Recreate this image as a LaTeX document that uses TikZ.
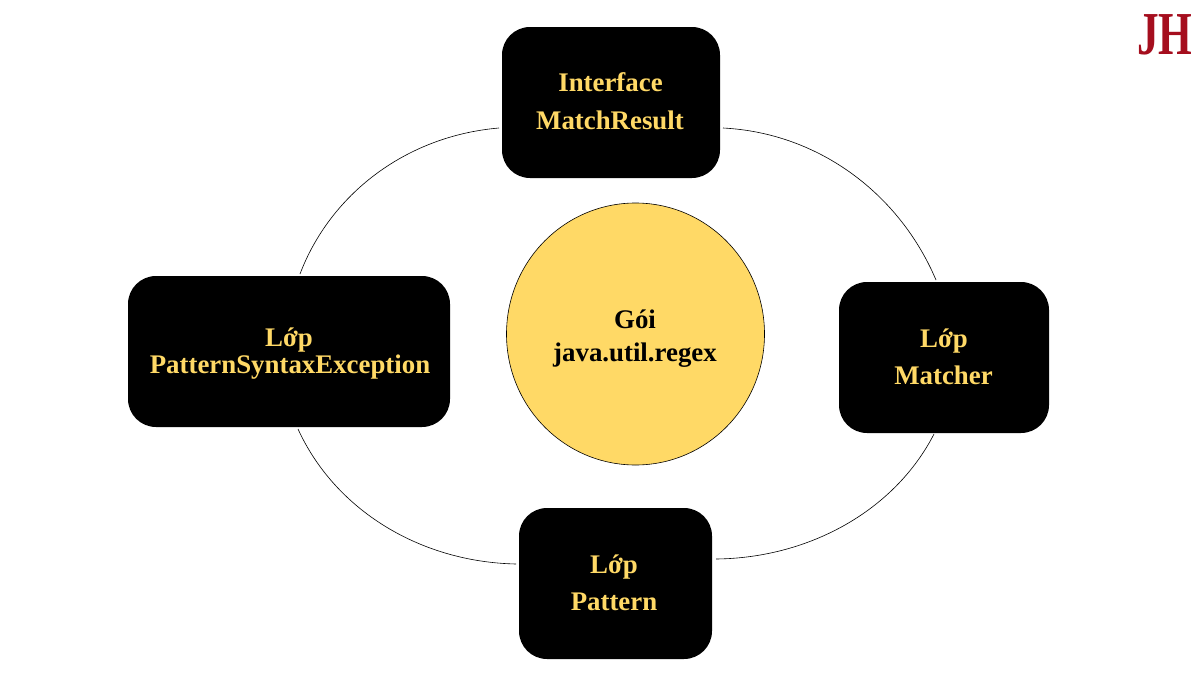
\documentclass[tikz,border=0pt]{standalone}
\usepackage{fontspec}
\usepackage{graphicx}
\usetikzlibrary{shapes.geometric}
\setmainfont{Liberation Serif}
\definecolor{gold}{HTML}{FFD966}
\definecolor{jhred}{HTML}{A50E1E}
\tikzset{
 box/.style={fill=black,rounded corners=28pt,inner sep=0pt},
 goldtext/.style={font=\fontsize{26.85pt}{28pt}\selectfont\bfseries,text=gold,inner sep=0pt,anchor=base},
 darktext/.style={font=\fontsize{26.85pt}{28pt}\selectfont\bfseries,text=black,inner sep=0pt,anchor=base},
 arcline/.style={draw=black,line width=0.6pt},
}
\begin{document}
\begin{tikzpicture}[x=1pt,y=-1pt]
\useasboundingbox (0,0) rectangle (1204,688);
\fill[white] (0,0) rectangle (1204,688);
\node[box,minimum width=218pt,minimum height=151pt] (top) at (611,102.5) {};
\node[box,minimum width=322pt,minimum height=151pt] (left) at (289,351.5) {};
\node[box,minimum width=210pt,minimum height=151pt] (right) at (944,357.5) {};
\node[box,minimum width=193pt,minimum height=151pt] (bottom) at (615.5,583.5) {};
\node[goldtext] (t1) at (610.5,91) {Interface};
\node[goldtext] (t2) at (610,129) {MatchResult};
\node[goldtext] (l1) at (289,346) {Lớp};
\node[goldtext] (l2) at (290,373) {PatternSyntaxException};
\node[goldtext] (r1) at (944,347) {Lớp};
\node[goldtext] (r2) at (943.5,384.5) {Matcher};
\node[goldtext] (b1) at (614,573) {Lớp};
\node[goldtext] (b2) at (614,610) {Pattern};
\node[ellipse,draw=black,line width=0.6pt,fill=gold,minimum width=258pt,minimum height=262pt,inner sep=0pt] (c) at (635.5,334) {};
\node[darktext] (c1) at (635,328) {Gói};
\node[darktext] (c2) at (635,361) {java.util.regex};
\coordinate (a1) at (499,128); \coordinate (a2) at (300,274);
\coordinate (a3) at (723,128); \coordinate (a4) at (936,280);
\coordinate (a5) at (934,434); \coordinate (a6) at (716,559);
\coordinate (a7) at (516,564); \coordinate (a8) at (298,429);
\draw[arcline] (a1) .. controls (405,136) and (330,195) .. (a2);
\draw[arcline] (a3) .. controls (820,133) and (900,195) .. (a4);
\draw[arcline] (a5) .. controls (895,510) and (810,558) .. (a6);
\draw[arcline] (a7) .. controls (420,562) and (335,510) .. (a8);
\node[font=\fontsize{61pt}{61pt}\selectfont\bfseries,text=jhred,inner sep=0pt,anchor=base] (jh) at (1165,54) {\scalebox{0.71}[1]{JH}};
\end{tikzpicture}
\end{document}
